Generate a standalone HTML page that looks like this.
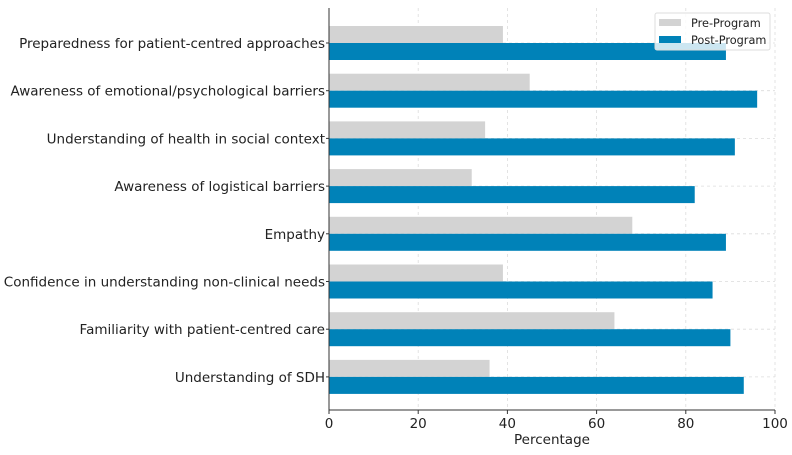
<!DOCTYPE html>
<html><head><meta charset="utf-8"><style>
body{margin:0;background:#fff;font-family:"DejaVu Sans","Liberation Sans",sans-serif;}
svg text{font-family:"DejaVu Sans","Liberation Sans",sans-serif;fill:#222;}
</style></head><body>
<svg id="chart" width="792" height="451" xmlns="http://www.w3.org/2000/svg"></svg>
<script>
const categories=["Preparedness for patient-centred approaches","Awareness of emotional/psychological barriers","Understanding of health in social context","Awareness of logistical barriers","Empathy","Confidence in understanding non-clinical needs","Familiarity with patient-centred care","Understanding of SDH"];
const preValues=[39,45,35,32,68,39,64,36];
const postValues=[89,96,91,82,89,86,90,93];
const xTicks=[0,20,40,60,80,100];
const NS="http://www.w3.org/2000/svg";
const svg=document.getElementById('chart');
const X0=329,X1=775,T=8,B=410;
const x=v=>X0+(v/100)*(X1-X0);
const yc=i=>43+i*47.7;
const BH=17;
function mk(tag,attrs,parent){const e=document.createElementNS(NS,tag);for(const k in attrs)e.setAttribute(k,attrs[k]);(parent||svg).appendChild(e);return e;}
xTicks.forEach(t=>{const l=mk('line',{x1:x(t),x2:x(t),y1:T,y2:B,stroke:'#dcdcdc','stroke-dasharray':'3,3','stroke-width':0.8});

});
categories.forEach((c,i)=>{const l=mk('line',{x1:X0,x2:X1,y1:yc(i),y2:yc(i),stroke:'#dcdcdc','stroke-dasharray':'3,3','stroke-width':0.8});

});
categories.forEach((c,i)=>{
const r1=mk('rect',{x:X0,y:yc(i)-BH,width:x(preValues[i])-X0,height:BH,fill:'#d3d3d3'});


const r2=mk('rect',{x:X0,y:yc(i),width:x(postValues[i])-X0,height:BH,fill:'#0082b8'});


const t=mk('text',{x:X0-4,y:yc(i)+5,'text-anchor':'end','font-size':13.5});t.textContent=c;


mk('line',{x1:X0-3,x2:X0,y1:yc(i),y2:yc(i),stroke:'#333'});
});
const ya=mk('line',{x1:X0,x2:X0,y1:T,y2:B,stroke:'#333','stroke-width':1});


const xa=mk('line',{x1:X0,x2:X1,y1:B,y2:B,stroke:'#333','stroke-width':1});


xTicks.forEach(t=>{mk('line',{x1:x(t),x2:x(t),y1:B,y2:B+4,stroke:'#333'});
const tx=mk('text',{x:x(t),y:B+18,'text-anchor':'middle','font-size':13.5});tx.textContent=t;

});
const xt=mk('text',{x:(X0+X1)/2,y:444,'text-anchor':'middle','font-size':13.5});xt.textContent='Percentage';


const lg=mk('g',{});


mk('rect',{x:655,y:13,width:115,height:37,fill:'#fff','fill-opacity':0.8,stroke:'#ddd',rx:2},lg);
mk('rect',{x:659,y:19,width:22,height:7,fill:'#d3d3d3'},lg);
mk('rect',{x:659,y:36,width:22,height:7,fill:'#0082b8'},lg);
const l1=mk('text',{x:691,y:27,'font-size':11.3},lg);l1.textContent='Pre-Program';


const l2=mk('text',{x:691,y:44,'font-size':11.3},lg);l2.textContent='Post-Program';


</script>
</body></html>
